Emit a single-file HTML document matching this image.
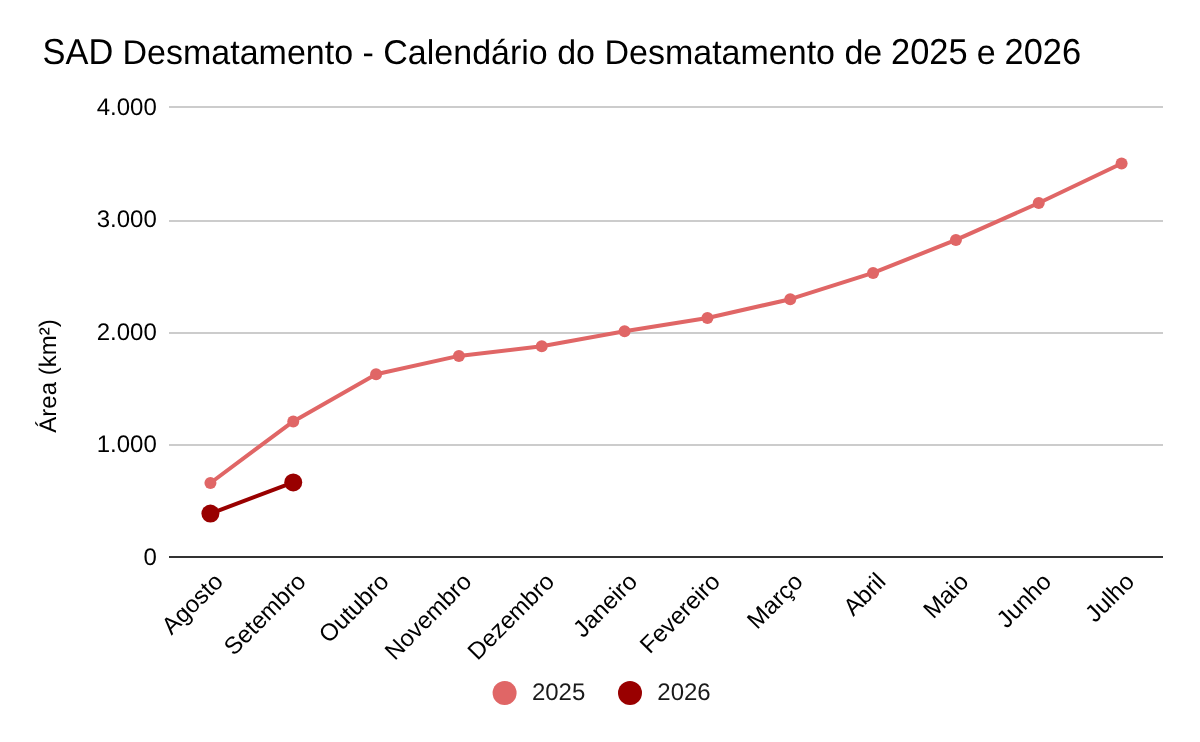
<!DOCTYPE html>
<html lang="pt-BR">
<head>
<meta charset="utf-8">
<title>SAD Desmatamento - Calendário do Desmatamento de 2025 e 2026</title>
<style>
html,body{margin:0;padding:0;background:#fff;}
body{width:1200px;height:742px;overflow:hidden;}
svg{display:block;}
svg text{font-family:"Liberation Sans",sans-serif;text-rendering:geometricPrecision;}
</style>
</head>
<body>
<svg width="1200" height="742" viewBox="0 0 1200 742">
<rect x="0" y="0" width="1200" height="742" fill="#ffffff"/>
<g font-size="34" fill="#000000">
<text transform="translate(42.55 64) scale(1.012 1.062)">SAD</text>
<text transform="translate(122.54 64) scale(1 1.01)">Desmatamento - Calendário do Desmatamento de</text>
<text transform="translate(891.07 64) scale(1.012 1.062)">2025</text>
<text transform="translate(976.79 64) scale(1 1.01)">e</text>
<text transform="translate(1004.50 64) scale(1.012 1.062)">2026</text>
</g>
<g fill="#cccccc">
<rect x="169" y="106" width="994" height="2"/>
<rect x="169" y="220" width="994" height="2"/>
<rect x="169" y="332" width="994" height="2"/>
<rect x="169" y="444" width="994" height="2"/>
</g>
<rect x="169" y="556" width="994" height="2" fill="#333333"/>
<g font-size="24" fill="#000000" text-anchor="end">
<text x="156.8" y="114.6">4.000</text>
<text x="156.8" y="227.1">3.000</text>
<text x="156.8" y="339.6">2.000</text>
<text x="156.8" y="452.1">1.000</text>
<text x="156.8" y="564.6">0</text>
</g>
<text font-size="24" fill="#000000" text-anchor="middle" transform="translate(56 376) rotate(-90)">Área (km²)</text>
<polyline points="210.42,483.0 293.25,421.4 376.08,374.3 458.92,355.9 541.75,346.3 624.58,331.3 707.42,318.0 790.25,299.2 873.08,272.9 955.92,239.9 1038.75,203.0 1121.58,163.5" fill="none" stroke="#e06666" stroke-width="4" stroke-linejoin="round" stroke-linecap="round"/>
<g fill="#e06666">
<circle cx="210.42" cy="483.0" r="6"/>
<circle cx="293.25" cy="421.4" r="6"/>
<circle cx="376.08" cy="374.3" r="6"/>
<circle cx="458.92" cy="355.9" r="6"/>
<circle cx="541.75" cy="346.3" r="6"/>
<circle cx="624.58" cy="331.3" r="6"/>
<circle cx="707.42" cy="318.0" r="6"/>
<circle cx="790.25" cy="299.2" r="6"/>
<circle cx="873.08" cy="272.9" r="6"/>
<circle cx="955.92" cy="239.9" r="6"/>
<circle cx="1038.75" cy="203.0" r="6"/>
<circle cx="1121.58" cy="163.5" r="6"/>
</g>
<polyline points="210.42,513.6 293.25,482.4" fill="none" stroke="#990000" stroke-width="4" stroke-linejoin="round" stroke-linecap="round"/>
<g fill="#990000">
<circle cx="210.42" cy="513.6" r="9"/>
<circle cx="293.25" cy="482.4" r="9"/>
</g>
<g font-size="24" fill="#000000" text-anchor="end">
<text transform="translate(224.42 583.0) rotate(-45)">Agosto</text>
<text transform="translate(307.25 583.0) rotate(-45)">Setembro</text>
<text transform="translate(390.08 583.0) rotate(-45)">Outubro</text>
<text transform="translate(472.92 583.0) rotate(-45)">Novembro</text>
<text transform="translate(555.75 583.0) rotate(-45)">Dezembro</text>
<text transform="translate(638.58 583.0) rotate(-45)">Janeiro</text>
<text transform="translate(721.42 583.0) rotate(-45)">Fevereiro</text>
<text transform="translate(804.25 583.0) rotate(-45)">Março</text>
<text transform="translate(887.08 583.0) rotate(-45)">Abril</text>
<text transform="translate(969.92 583.0) rotate(-45)">Maio</text>
<text transform="translate(1052.75 583.0) rotate(-45)">Junho</text>
<text transform="translate(1135.58 583.0) rotate(-45)">Julho</text>
</g>
<circle cx="504.6" cy="692.9" r="12" fill="#e06666"/>
<text x="531.9" y="699.6" font-size="24" fill="#1a1a1a">2025</text>
<circle cx="630" cy="692.9" r="12" fill="#990000"/>
<text x="657.3" y="699.6" font-size="24" fill="#1a1a1a">2026</text>
</svg>
</body>
</html>
